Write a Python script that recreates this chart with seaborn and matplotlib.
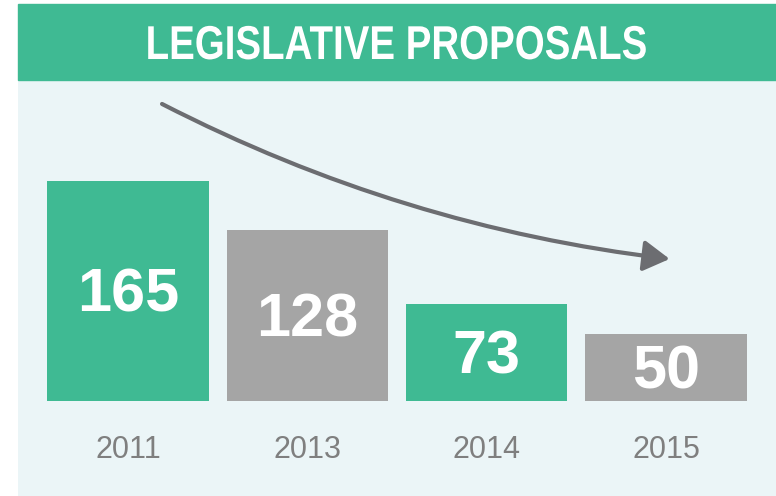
import matplotlib
matplotlib.use("Agg")
import matplotlib.pyplot as plt
import seaborn as sns
from matplotlib.patches import Rectangle, FancyArrowPatch, PathPatch
from matplotlib.textpath import TextPath
from matplotlib.font_manager import FontProperties
from matplotlib.transforms import Affine2D, IdentityTransform

sns.set_style("white")
plt.rcParams['font.family'] = ['Liberation Sans', 'DejaVu Sans']

years = ['2011', '2013', '2014', '2015']
proposals = [165, 128, 73, 50]
bar_colors = ['#3fba93', '#a5a5a5', '#3fba93', '#a5a5a5']
title = 'LEGISLATIVE PROPOSALS'

GREEN = '#3fba93'
PANEL = '#ebf5f7'
LABEL_GREY = '#7f7f7f'
ARROW_GREY = '#6c6d71'

W, H = 776, 496
fig = plt.figure(figsize=(W / 100, H / 100), dpi=100)
fig.patch.set_facecolor('white')

# green banner
fig.patches.append(Rectangle((18 / W, 1 - 80 / H), 1 - 18 / W, 76 / H,
                             transform=fig.transFigure, color=GREEN, zorder=0))

# condensed bold title (no narrow font installed, so squeeze the glyph outlines)
tp = TextPath((0, 0), title, size=47.5,
              prop=FontProperties(family='Liberation Sans', weight='bold'))
ext = tp.get_extents()
squeeze = 0.81
tw = ext.width * squeeze
x0 = (18 + W) / 2 - tw / 2 - ext.x0 * squeeze
title_tr = Affine2D().scale(squeeze, 1).translate(x0, H - 59) + IdentityTransform()
fig.patches.append(PathPatch(tp, transform=title_tr, facecolor='white',
                             edgecolor='none', zorder=1))

# chart panel
ax = fig.add_axes([18 / W, 0, 1 - 18 / W, 416 / H])
ax.set_facecolor(PANEL)
sns.barplot(x=years, y=proposals, hue=years, palette=bar_colors, width=0.9,
            saturation=1, legend=False, linewidth=0, ax=ax, zorder=2)

px_per_unit = 1.335
ax.set_xlim(-0.613, 3.613)
ax.set_ylim(-95 / px_per_unit, 321 / px_per_unit)
ax.set_xticks([])
ax.set_yticks([])
for s in ax.spines.values():
    s.set_visible(False)

for i, (yr, v) in enumerate(zip(years, proposals)):
    ax.text(i, v / 2 - 21 / px_per_unit, str(v), color='white', fontsize=44,
            fontweight='bold', ha='center', va='baseline', zorder=3)
    ax.text(i, -57 / px_per_unit, yr, color=LABEL_GREY, fontsize=22,
            ha='center', va='baseline')

# downward trend arrow
arrow = FancyArrowPatch((0.19, 222.5), (3.02, 106.4),
                        connectionstyle='arc3,rad=0.09',
                        arrowstyle='-|>,head_length=16,head_width=9.4',
                        mutation_scale=1, color=ARROW_GREY, lw=3,
                        shrinkA=0, shrinkB=0, zorder=4)
ax.add_patch(arrow)

fig.savefig('out.png', dpi=100, facecolor='white')
